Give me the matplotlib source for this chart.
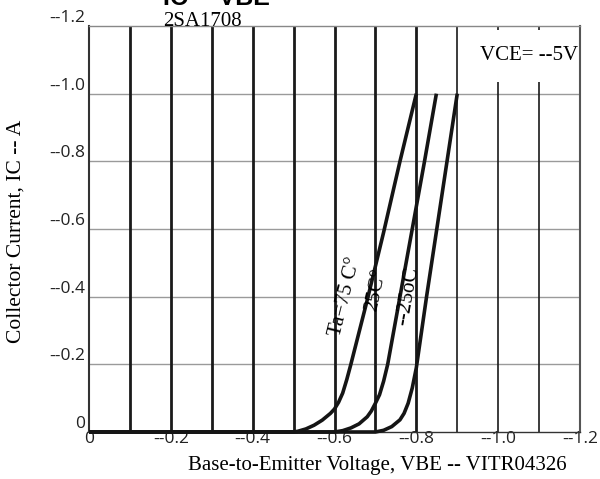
import numpy as np
import matplotlib
matplotlib.use('Agg')
import matplotlib.pyplot as plt
import matplotlib.patches as patches

# IC -- VBE characteristic, 2SA1708
v_75 = [0.0, 0.50, 0.51, 0.53, 0.55, 0.57, 0.59, 0.60, 0.61, 0.62, 0.63, 0.64, 0.68, 0.72, 0.76, 0.80]
i_75 = [0.0, 0.0, 0.002, 0.009, 0.020, 0.035, 0.055, 0.068, 0.088, 0.115, 0.155, 0.20, 0.39, 0.59, 0.80, 1.00]

v_25 = [0.0, 0.60, 0.62, 0.64, 0.66, 0.68, 0.69, 0.70, 0.71, 0.72, 0.73, 0.76, 0.79, 0.82, 0.849]
i_25 = [0.0, 0.0, 0.004, 0.012, 0.024, 0.045, 0.062, 0.085, 0.11, 0.15, 0.20, 0.40, 0.60, 0.80, 1.00]

v_m25 = [0.0, 0.70, 0.72, 0.74, 0.76, 0.77, 0.78, 0.79, 0.80, 0.825, 0.85, 0.875, 0.90]
i_m25 = [0.0, 0.0, 0.005, 0.016, 0.036, 0.055, 0.085, 0.13, 0.19, 0.40, 0.60, 0.80, 1.00]

xticks = [0, 0.2, 0.4, 0.6, 0.8, 1.0, 1.2]
xticklabels = ['0', '--0.2', '--0.4', '--0.6', '--0.8', '--1.0', '--1.2']
yticks = [0, 0.2, 0.4, 0.6, 0.8, 1.0, 1.2]
yticklabels = ['0', '--0.2', '--0.4', '--0.6', '--0.8', '--1.0', '--1.2']
vgrid = [0.1, 0.2, 0.3, 0.4, 0.5, 0.6, 0.7, 0.8, 0.9, 1.0, 1.1]
hgrid = [0.2, 0.4, 0.6, 0.8, 1.0]

serif = 'Liberation Serif'
sans = 'Open Sans'

fig = plt.figure(figsize=(6, 4.79), dpi=100)
ax = fig.add_axes([89/600, 47/479, 491/600, 406/479])

ax.set_xlim(0, 1.2)
ax.set_ylim(0, 1.2)

for y in hgrid:
    ax.axhline(y, color='#9a9a9a', lw=1.0, zorder=1)
for x in vgrid:
    ax.axvline(x, color='#1a1a1a', lw=2.0 if x < 0.85 else 1.2, zorder=2)

# white box behind the VCE note
ax.add_patch(patches.Rectangle((0.93, 1.035), 0.265, 0.153, facecolor='white',
                               edgecolor='none', zorder=3))
ax.text(1.195, 1.10, 'VCE= --5V', ha='right', va='baseline', fontsize=15,
        family=serif, zorder=4)

for v, i in [(v_75, i_75), (v_25, i_25), (v_m25, i_m25)]:
    ax.plot(v, i, color='#151515', lw=2.6, solid_capstyle='butt',
            solid_joinstyle='round', zorder=5, clip_on=False)

ax.text(0.626, 0.40, 'Ta=75 C\u00b0', rotation=76, ha='center', va='center',
        rotation_mode='anchor', fontsize=15, family=serif, zorder=6)
ax.text(0.701, 0.42, '25C\u00b0', rotation=78, ha='center', va='center',
        rotation_mode='anchor', fontsize=15, family=serif, zorder=6)
ax.text(0.78, 0.40, '--25oC', rotation=80, ha='center', va='center',
        rotation_mode='anchor', fontsize=15, family=serif, zorder=6)

ax.set_xticks(xticks)
ax.set_xticklabels(xticklabels, family=sans, fontsize=12.5)
ax.set_yticks(yticks)
ax.set_yticklabels(yticklabels, family=sans, fontsize=12.5)
for lab in ax.get_yticklabels():
    lab.set_va('bottom')
ax.tick_params(axis='both', length=0, colors='#222222')
ax.tick_params(axis='x', pad=-1)
ax.tick_params(axis='y', pad=3)

ax.spines['left'].set_color('#333333')
ax.spines['left'].set_linewidth(1.5)
ax.spines['bottom'].set_color('#333333')
ax.spines['bottom'].set_linewidth(1.0)
ax.spines['top'].set_color('#888888')
ax.spines['top'].set_linewidth(1.0)
ax.spines['right'].set_color('#555555')
ax.spines['right'].set_linewidth(1.5)

fig.text(163/600, 1 - 5/479, 'IC -- VBE', ha='left', va='baseline',
         fontsize=18, fontweight='bold', family='Liberation Sans')
fig.text(163/600, 1 - 26/479, '2SA1708', ha='left', va='baseline',
         fontsize=15, family=serif)
fig.text(377/600, 1 - 456/479, 'Base-to-Emitter Voltage, VBE -- VITR04326',
         ha='center', va='top', fontsize=15, family=serif)
fig.text(16/600, 1 - 231/479, 'Collector Current, IC -- A', rotation=90,
         ha='center', va='center', fontsize=15.5, family=serif)

fig.savefig('out.png', dpi=100)
